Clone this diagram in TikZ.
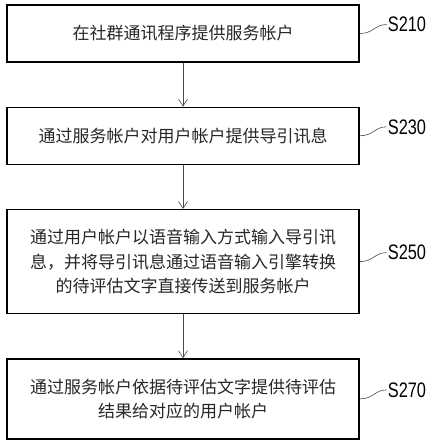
\documentclass[tikz,border=0pt]{standalone}
\usepackage{fontspec}
\setmainfont{Noto Sans CJK SC}
\newfontfamily\labelfont[FakeStretch=0.78]{Liberation Sans}
\usetikzlibrary{
  arrows.meta,
  positioning
}
\definecolor{linegray}{HTML}{4A4A4A}

\begin{document}
\begin{tikzpicture}[
  x=1pt, y=1pt,
  node distance=44pt,
  stepbox/.style={
    draw, line width=1.3pt, rectangle,
    minimum width=352pt, inner sep=0pt,
    align=center, font=\fontsize{17}{24.5}\selectfont, text=black!85,
  },
  arrow/.style={-{Straight Barb[length=7pt,width=9pt]}, semithick, linegray},
  steplabel/.style={font=\labelfont\fontsize{21}{21}\selectfont, inner sep=1pt},
  leader/.style={semithick, linegray},
]

\useasboundingbox (0,0) rectangle (431,-444);

\node[stepbox, minimum height=57pt] (s210) at (183,-33.5) {在社群通讯程序提供服务帐户};

\node[stepbox, minimum height=57pt, below=of s210] (s230) {通过服务帐户对用户帐户提供导引讯息};

\node[stepbox, minimum height=104pt, below=of s230] (s250) {
  通过用户帐户以语音输入方式输入导引讯\\
  息，并将导引讯息通过语音输入引擎转换\\
  的待评估文字直接传送到服务帐户
};

\node[stepbox, minimum height=80pt, below=of s250] (s270) {
  通过服务帐户依据待评估文字提供待评估\\
  结果给对应的用户帐户
};

\draw[arrow] (s210) -- (s230);
\draw[arrow] (s230) -- (s250);
\draw[arrow] (s250) -- (s270);

% step numbers
\node[steplabel, right=27pt of s210.east, yshift=9pt] (l210) {S210};
\node[steplabel, right=27pt of s230.east, yshift=9pt] (l230) {S230};
\node[steplabel, right=27pt of s250.east, yshift=9pt] (l250) {S250};
\node[steplabel, right=27pt of s270.east, yshift=9pt] (l270) {S270};

\draw[leader] (s210.east) .. controls +(14,0) and +(-12,0) .. (l210.west);
\draw[leader] (s230.east) .. controls +(14,0) and +(-12,0) .. (l230.west);
\draw[leader] (s250.east) .. controls +(14,0) and +(-12,0) .. (l250.west);
\draw[leader] (s270.east) .. controls +(14,0) and +(-12,0) .. (l270.west);

\end{tikzpicture}
\end{document}
